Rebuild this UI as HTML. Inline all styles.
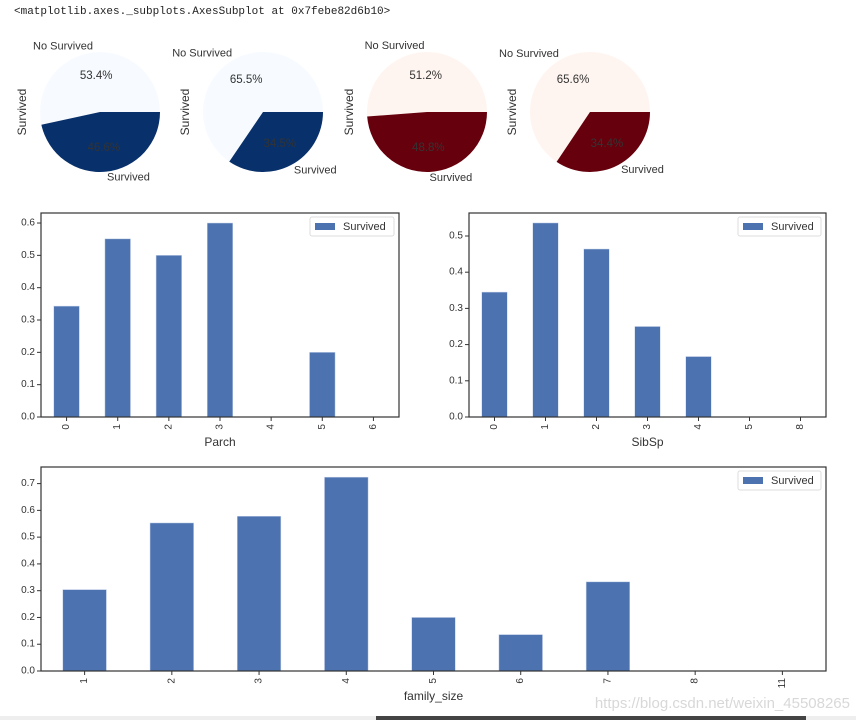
<!DOCTYPE html>
<html><head><meta charset="utf-8"><style>
body{margin:0;background:#fff;width:856px;height:720px;overflow:hidden;font-family:"Liberation Sans","DejaVu Sans",sans-serif}
</style></head><body>
<svg id="s" width="856" height="720" xmlns="http://www.w3.org/2000/svg">
<text x="14" y="14" font-family="Liberation Mono, monospace" font-size="11" fill="#222">&lt;matplotlib.axes._subplots.AxesSubplot at 0x7febe82d6b10&gt;</text>
<text x="850" y="708" text-anchor="end" font-size="15" fill="#d8d8d8">https://blog.csdn.net/weixin_45508265</text>
<rect x="0" y="716" width="856" height="4" fill="#eee"/>
<rect x="376" y="716" width="430" height="4" fill="#444"/>
</svg>
<script>
const NS="http://www.w3.org/2000/svg";
const svg=document.getElementById('s');
function el(tag,attrs,parent){const e=document.createElementNS(NS,tag);for(const k in attrs)e.setAttribute(k,attrs[k]);(parent||svg).appendChild(e);return e;}

// ---- pie data ----
const pieNoSurvived=[53.4,65.5,51.2,65.6];
const pieSurvived=[46.6,34.5,48.8,34.4];
const pieCx=[100,263,427,590];
const pieLight=['#f7fbff','#f7fbff','#fff5f0','#fff5f0'];
const pieDark=['#08306b','#08306b','#67000d','#67000d'];

// ---- bar data ----
const parchCats=['0','1','2','3','4','5','6'];
const parchVals=[0.343,0.551,0.5,0.6,0,0.2,0];
const parchTicks=[0,0.1,0.2,0.3,0.4,0.5,0.6];
const sibCats=['0','1','2','3','4','5','8'];
const sibVals=[0.345,0.536,0.464,0.25,0.167,0,0];
const sibTicks=[0,0.1,0.2,0.3,0.4,0.5];
const famCats=['1','2','3','4','5','6','7','8','11'];
const famVals=[0.304,0.553,0.578,0.724,0.2,0.136,0.333,0,0];
const famTicks=[0,0.1,0.2,0.3,0.4,0.5,0.6,0.7];

const R=60, CY=112;
function pt(cx,a,r){const t=a*Math.PI/180;return [cx+r*Math.cos(t),CY-r*Math.sin(t)];}
pieCx.forEach((cx,i)=>{
  const g=el('g',{});
  
  
  const tot=pieNoSurvived[i]+pieSurvived[i];
  const a1=360*pieNoSurvived[i]/tot;
  const wedges=[[0,a1,pieLight[i],'No Survived',pieNoSurvived[i]],[a1,360,pieDark[i],'Survived',pieSurvived[i]]];
  wedges.forEach((w,j)=>{
    const [x0,y0]=pt(cx,w[0],R),[x1,y1]=pt(cx,w[1],R);
    const large=(w[1]-w[0])>180?1:0;
    const p=el('path',{d:`M${cx},${CY} L${x0},${y0} A${R},${R} 0 ${large} 0 ${x1},${y1} Z`,fill:w[2]},g);
    
    
    const mid=(w[0]+w[1])/2;
    const [lx,ly]=pt(cx,mid,R*1.1);
    const t=el('text',{x:lx,y:ly,'text-anchor':lx<cx?'end':'start','dominant-baseline':'central','font-size':11,fill:'#333'},g);
    t.textContent=w[3];
    
    
    const [px,py]=pt(cx,mid,R*0.6);
    const q=el('text',{x:px,y:py,'text-anchor':'middle','dominant-baseline':'central','font-size':11.5,fill:'#333'},g);
    q.textContent=w[4].toFixed(1)+'%';
    
    
  });
  const yl=el('text',{x:0,y:0,transform:`translate(${cx-R-18},${CY}) rotate(-90)`,'text-anchor':'middle','dominant-baseline':'central','font-size':12,fill:'#333'},g);
  yl.textContent='Survived';
  
  
});

function barChart(name,cats,vals,ticks,box,ymax,xlabel,legX,dec){
  const [L,T,Rr,B]=box;
  const g=el('g',{});
  
  
  const n=cats.length, w=(Rr-L)/n;
  const X=i=>L+w*(i+0.5);
  const Y=v=>B-(B-T)*v/ymax;
  vals.forEach((v,i)=>{
    const r=el('rect',{x:X(i)-w*0.25,y:Y(v),width:w*0.5,height:B-Y(v),fill:'#4c72b0',stroke:'#c8d4ea','stroke-width':0.5},g);
    
    
  });
  const fr=el('rect',{x:L,y:T,width:Rr-L,height:B-T,fill:'none',stroke:'#333','stroke-width':1.2},g);
  
  
  ticks.forEach(t=>{
    const y=Y(t);
    el('line',{x1:L-4,x2:L,y1:y,y2:y,stroke:'#333'},g);
    const tx=el('text',{x:L-6,y:y,'text-anchor':'end','dominant-baseline':'central','font-size':10,fill:'#333'},g);
    tx.textContent=t.toFixed(1);
    
    
  });
  cats.forEach((c,i)=>{
    const x=X(i);
    el('line',{x1:x,x2:x,y1:B,y2:B+4,stroke:'#333'},g);
    const tx=el('text',{x:0,y:0,transform:`translate(${x},${B+7}) rotate(-90)`,'text-anchor':'end','dominant-baseline':'central','font-size':10,fill:'#333'},g);
    tx.textContent=c;
    
    
  });
  const xl=el('text',{x:(L+Rr)/2,y:B+29,'text-anchor':'middle','font-size':12,fill:'#333'},g);
  xl.textContent=xlabel;
  
  
  const lg=el('g',{},g);
  
  
  el('rect',{x:legX,y:T+4,width:Rr-5-legX,height:19,fill:'#fff',stroke:'#ddd',rx:2},lg);
  el('rect',{x:legX+5,y:T+10,width:20,height:7,fill:'#4c72b0'},lg);
  const lt=el('text',{x:legX+33,y:T+14,'dominant-baseline':'central','font-size':11,fill:'#333'},lg);
  lt.textContent='Survived';
  
  
}
barChart('parch-bar-chart',parchCats,parchVals,parchTicks,[41,213,399,417],0.631,'Parch',310);
barChart('sibsp-bar-chart',sibCats,sibVals,sibTicks,[469,213,826,417],0.5635,'SibSp',738);
barChart('family-size-bar-chart',famCats,famVals,famTicks,[41,467,826,671],0.762,'family_size',738);
</script>
</body></html>
